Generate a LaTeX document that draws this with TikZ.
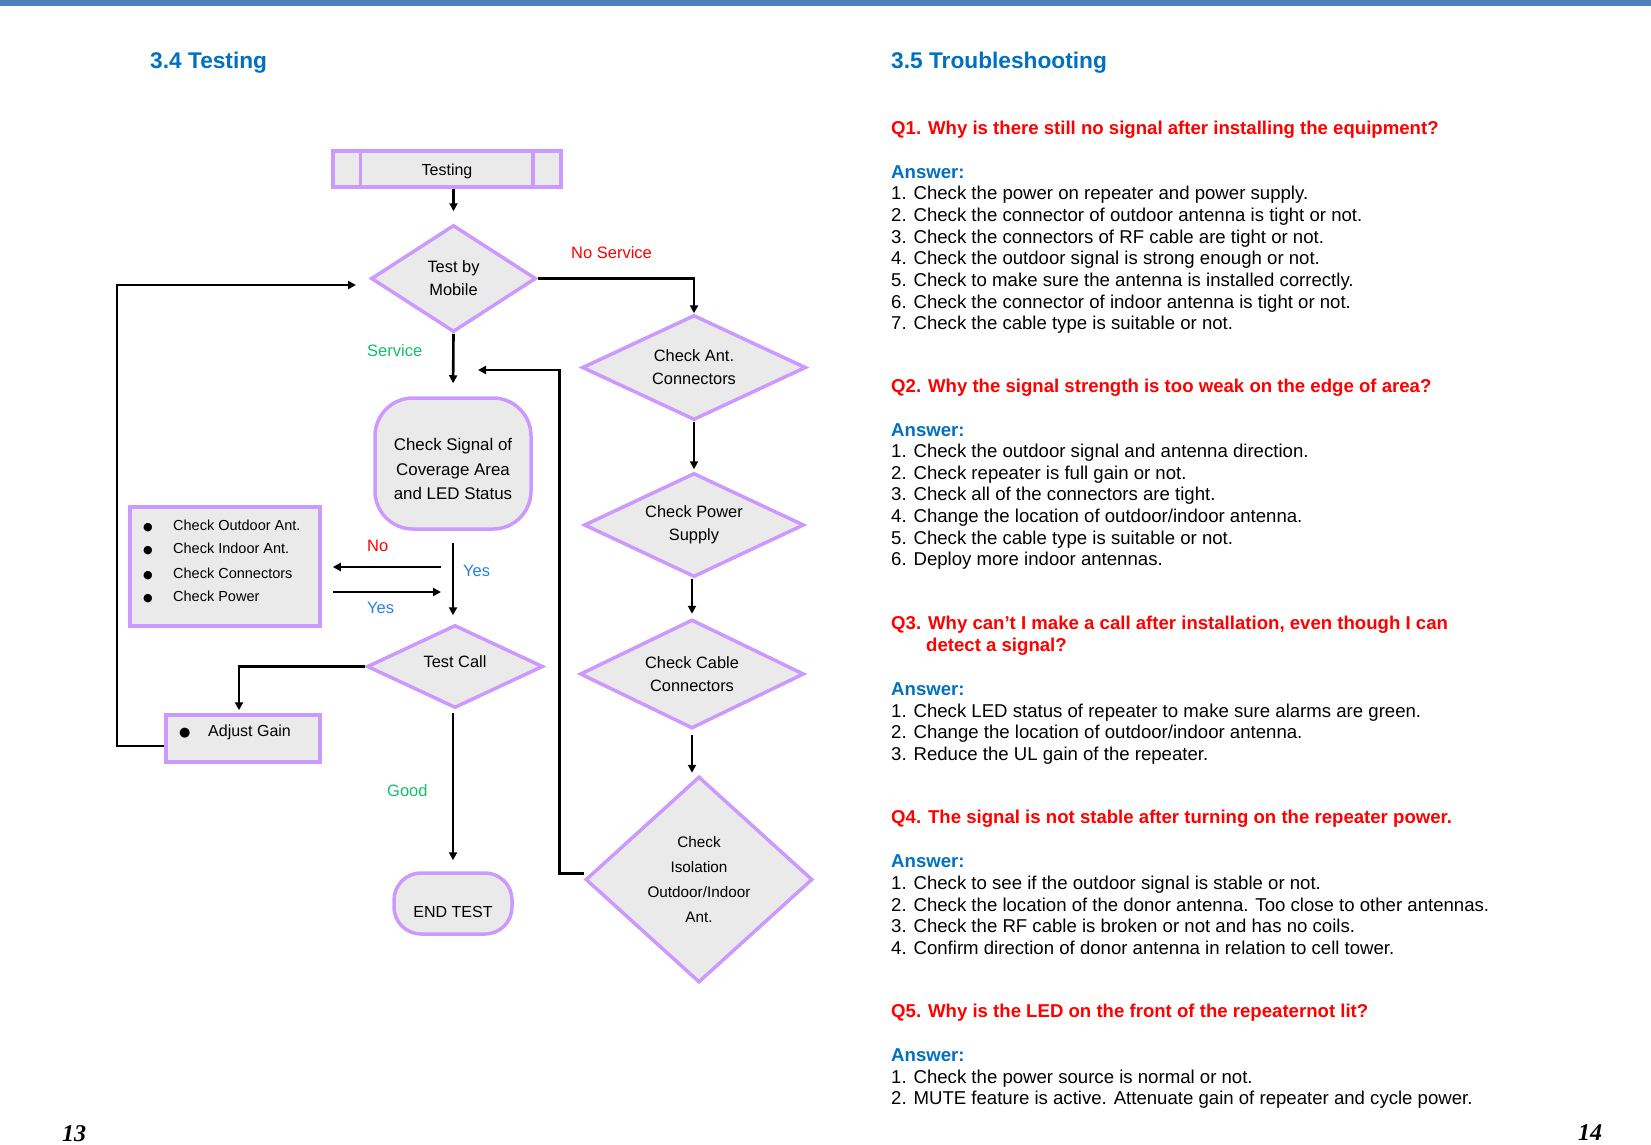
\documentclass[tikz,border=0pt]{standalone}
\usepackage{fontspec}
\setmainfont{Liberation Sans}
\newfontfamily\pagenumfont{Liberation Serif}
\newfontfamily\dotfont{DejaVu Sans}
\usetikzlibrary{shapes.geometric,arrows.meta}

\definecolor{barblue}{RGB}{79,129,189}
\definecolor{headblue}{RGB}{0,112,192}
\definecolor{qred}{RGB}{255,0,0}
\definecolor{edge}{RGB}{204,153,255}
\definecolor{boxfill}{RGB}{234,234,234}
\definecolor{okgreen}{RGB}{20,190,110}
\definecolor{yesblue}{RGB}{40,130,220}

\newcommand{\bul}[2]{\makebox[#1][l]{\dotfont\fontsize{#2}{#2}\selectfont ●}}

\begin{document}
\begin{tikzpicture}[x=1pt,y=-1pt]
	\tikzstyle{outline} = [draw=edge, line width=3.5pt]
	\tikzstyle{proc} = [rectangle, outline, fill=boxfill, inner sep=0pt]
	\tikzstyle{roundproc} = [proc, rounded corners=38pt]
	\tikzstyle{term} = [proc, rounded corners=27pt, font=\fontsize{16}{23}\selectfont, text height=27pt, text depth=0pt]
	\tikzstyle{choice} = [diamond, outline, fill=boxfill, inner sep=0pt, shape aspect=2, align=center, font=\fontsize{16.4}{23}\selectfont]
	\tikzstyle{flow} = [draw=black, line width=2.6pt, -{Triangle[length=8pt,width=8pt]}]
	\tikzstyle{tag} = [anchor=base west, inner sep=0pt, font=\fontsize{16.5}{23}\selectfont]
	\tikzstyle{listitem} = [anchor=base west, inner sep=0pt, font=\fontsize{14.5}{16}\selectfont]
	\tikzstyle{heading} = [anchor=base west, inner sep=0pt, text=headblue, font=\bfseries\fontsize{22.7}{26}\selectfont]
	\tikzstyle{question} = [anchor=base west, inner sep=0pt, text=qred, font=\bfseries\fontsize{18.6}{21.7}\selectfont]
	\tikzstyle{answer} = [question, text=headblue]
	\tikzstyle{point} = [anchor=base west, inner sep=0pt, font=\fontsize{18.6}{21.7}\selectfont]
	\tikzstyle{pagenum} = [anchor=base west, inner sep=0pt, font=\pagenumfont\bfseries\itshape\fontsize{24}{24}\selectfont]

	\useasboundingbox (0,0) rectangle (1651,1144);
	\fill [white] (0,0) rectangle (1651,1144);
	\fill [barblue] (0,0) rectangle (1651,6);

	\node [heading] (h34) at (150,68) {3.4 Testing};
	\node [heading] (h35) at (891,68) {3.5 Troubleshooting};

	% flow chart, left column
	\node [proc, minimum width=228pt, minimum height=36pt, font=\fontsize{16}{23}\selectfont, text height=12pt, text depth=0pt] (testing) at (447,169) {Testing};
	\draw [outline] ([xshift=29pt]testing.north west) -- ([xshift=29pt]testing.south west);
	\draw [outline] ([xshift=-30pt]testing.north east) -- ([xshift=-30pt]testing.south east);

	\node [choice, shape aspect=1.5, minimum width=165pt, minimum height=107pt] (mobile) at (453.5,278.5) {Test by\\Mobile};
	\draw [flow, shorten >=12pt] (testing.south -| mobile.north) -- (mobile.north);

	\node [roundproc, minimum width=156pt, minimum height=131pt] (checksig) at (453,463.5) {};
	\node [align=center, inner sep=0pt, font=\fontsize{16.9}{24.3}\selectfont, yshift=-5.5pt] (checksigtext) at (checksig.center) {Check Signal of\\Coverage Area\\and LED Status};
	\draw [flow, shorten >=13pt] (mobile.south) -- (checksig.north);
	\node [tag, text=okgreen] (svc) at (367,356) {Service};

	\node [proc, minimum width=190pt, minimum height=119pt] (checklist) at (225,566.5) {};
	\node [listitem] (item1) at (143,530.5) {\bul{30pt}{11}Check Outdoor Ant.};
	\node [listitem] (item2) at (143,553.5) {\bul{30pt}{11}Check Indoor Ant.};
	\node [listitem] (item3) at (143,578.5) {\bul{30pt}{11}Check Connectors};
	\node [listitem] (item4) at (143,601.5) {\bul{30pt}{11}Check Power};

	\node [choice, minimum width=176pt, minimum height=83pt, text height=12pt, text depth=11pt] (testcall) at (455,666.5) {Test Call};
	\draw [flow, shorten <=12pt, shorten >=8pt] (checksig.south) -- (checksig.south |- testcall.north);
	\node [tag, text=yesblue] (yes1) at (463,576) {Yes};

	\coordinate (noout) at (441,567);
	\coordinate (yesin) at (441,592);
	\draw [flow, shorten >=11pt] (noout) -- (noout -| checklist.east);
	\draw [flow, shorten <=11pt] (yesin -| checklist.east) -- (yesin);
	\node [tag, text=qred] (no) at (367,551) {No};
	\node [tag, text=yesblue] (yes2) at (367,613) {Yes};

	\node [proc, minimum width=154pt, minimum height=47pt] (adjust) at (243,738.5) {};
	\node [listitem, font=\fontsize{16}{23}\selectfont] (adjusttext) at (179,736) {\bul{29pt}{13}Adjust Gain};
	\draw [flow, shorten >=3pt] (testcall.west) -| ([xshift=-4pt]adjust.north);

	\coordinate (loopcorner) at (117,746);
	\coordinate (loopin) at (356,285);
	\draw [flow] (adjust.west |- loopcorner) -- (loopcorner) |- (loopin);

	\node [term, minimum width=118pt, minimum height=61pt] (endtest) at (453,903.5) {END TEST};
	\draw [flow, shorten <=3pt, shorten >=11pt] (testcall.south -| endtest.north) -- (endtest.north);
	\node [tag, text=okgreen] (good) at (387,796) {Good};

	% flow chart, right column
	\node [choice, minimum width=224pt, minimum height=105pt] (ant) at (694,367.5) {Check Ant.\\Connectors};
	\draw [flow] (mobile.east) -| (ant.north);
	\node [tag, text=qred] (nosvc) at (571,258) {No Service};

	\node [choice, minimum width=220pt, minimum height=104pt] (power) at (694,525) {Check Power\\Supply};
	\draw [flow, shorten >=2pt] (ant.south) -- (ant.south |- power.north);

	\node [choice, minimum width=224pt, minimum height=109pt] (cable) at (692,674) {Check Cable\\Connectors};
	\draw [flow, shorten >=4pt] (power.south -| cable.north) -- (cable.north);

	\node [choice, shape aspect=1.1, minimum width=227pt, minimum height=206pt, font=\fontsize{15.3}{24.7}\selectfont] (isolation) at (699,879.5) {Check\\Isolation\\Outdoor/Indoor\\Ant.};
	\draw [flow, shorten <=5pt, shorten >=2pt] (cable.south) -- (cable.south |- isolation.north);

	\coordinate (backin) at (478,370);
	\draw [flow] ([yshift=6pt]isolation.west) -| ([xshift=-24pt]isolation.west |- backin) -- (backin);

	% troubleshooting text
	\node [question] (q1) at (891,134) {Q1. Why is there still no signal after installing the equipment?};
	\node [answer] (q1ans) at (891,178) {Answer:};
	\node [point] (q1a) at (891,199) {1. Check the power on repeater and power supply.};
	\node [point] (q1b) at (891,221) {2. Check the connector of outdoor antenna is tight or not.};
	\node [point] (q1c) at (891,243) {3. Check the connectors of RF cable are tight or not.};
	\node [point] (q1d) at (891,264) {4. Check the outdoor signal is strong enough or not.};
	\node [point] (q1e) at (891,286) {5. Check to make sure the antenna is installed correctly.};
	\node [point] (q1f) at (891,308) {6. Check the connector of indoor antenna is tight or not.};
	\node [point] (q1g) at (891,329) {7. Check the cable type is suitable or not.};

	\node [question] (q2) at (891,392) {Q2. Why the signal strength is too weak on the edge of area?};
	\node [answer] (q2ans) at (891,436) {Answer:};
	\node [point] (q2a) at (891,457) {1. Check the outdoor signal and antenna direction.};
	\node [point] (q2b) at (891,479) {2. Check repeater is full gain or not.};
	\node [point] (q2c) at (891,500) {3. Check all of the connectors are tight.};
	\node [point] (q2d) at (891,522) {4. Change the location of outdoor/indoor antenna.};
	\node [point] (q2e) at (891,544) {5. Check the cable type is suitable or not.};
	\node [point] (q2f) at (891,565) {6. Deploy more indoor antennas.};

	\node [question] (q3) at (891,629) {Q3. Why can’t I make a call after installation, even though I can};
	\node [question] (q3two) at (926,651) {detect a signal?};
	\node [answer] (q3ans) at (891,695) {Answer:};
	\node [point] (q3a) at (891,717) {1. Check LED status of repeater to make sure alarms are green.};
	\node [point] (q3b) at (891,738) {2. Change the location of outdoor/indoor antenna.};
	\node [point] (q3c) at (891,760) {3. Reduce the UL gain of the repeater.};

	\node [question] (q4) at (891,823) {Q4. The signal is not stable after turning on the repeater power.};
	\node [answer] (q4ans) at (891,867) {Answer:};
	\node [point] (q4a) at (891,889) {1. Check to see if the outdoor signal is stable or not.};
	\node [point] (q4b) at (891,911) {2. Check the location of the donor antenna. Too close to other antennas.};
	\node [point] (q4c) at (891,932) {3. Check the RF cable is broken or not and has no coils.};
	\node [point] (q4d) at (891,954) {4. Confirm direction of donor antenna in relation to cell tower.};

	\node [question] (q5) at (891,1017) {Q5. Why is the LED on the front of the repeaternot lit?};
	\node [answer] (q5ans) at (891,1061) {Answer:};
	\node [point] (q5a) at (891,1083) {1. Check the power source is normal or not.};
	\node [point] (q5b) at (891,1104) {2. MUTE feature is active. Attenuate gain of repeater and cycle power.};

	\node [pagenum] (p13) at (62,1141) {13};
	\node [pagenum] (p14) at (1578,1140) {14};
\end{tikzpicture}
\end{document}
